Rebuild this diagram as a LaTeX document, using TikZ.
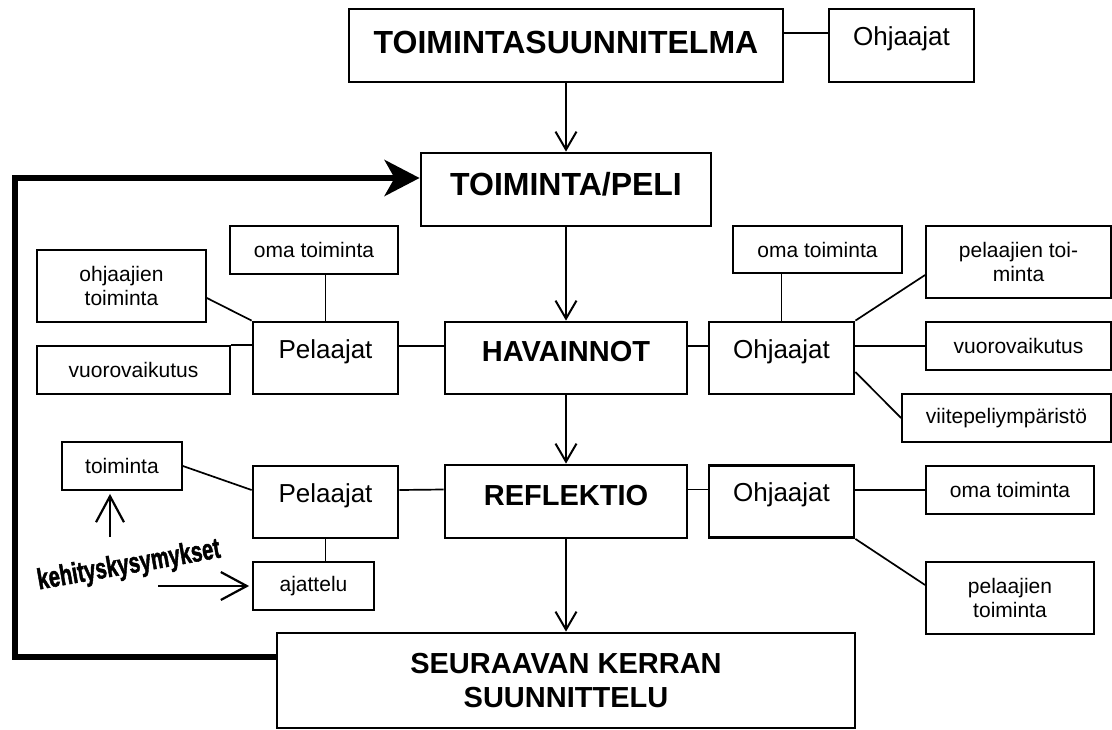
\documentclass[tikz,border=0pt]{standalone}
\usepackage{fontspec}
\setmainfont{Liberation Sans}
\newfontfamily\wordart[FakeBold=2]{Liberation Sans Bold}
\usetikzlibrary{arrows.meta}
\tikzset{
	smallbox/.style={draw, line width=1.8pt, inner sep=0pt, align=center,
			font=\fontsize{21}{24}\selectfont},
	groupbox/.style={draw, line width=2.8pt, inner sep=0pt,
			minimum width=145pt, minimum height=72pt,
			font=\fontsize{26}{30}\selectfont},
	stagebox/.style={draw, line width=2.8pt, inner sep=0pt, align=center,
			font=\bfseries\fontsize{29}{34}\selectfont},
	textdrop/.style={text height=#1, text depth=0pt},
	link/.style={line width=1.7pt},
	flow/.style={line width=2pt, -{Straight Barb[length=18pt, width=21pt]}},
	hint/.style={line width=2.2pt, -{Straight Barb[length=26pt, width=28pt]}},
	feedback/.style={line width=6pt, -{Stealth[length=35pt, width=36pt, inset=10pt]}}
}

\begin{document}
\begin{tikzpicture}[x=1pt, y=-1pt]
	\useasboundingbox (0,0) rectangle (1112,729);
	% stages
	\node[stagebox, minimum width=434pt, minimum height=73pt, textdrop=15pt, font=\bfseries\fontsize{32}{36}\selectfont] (plan) at (566,45.5) {TOIMINTASUUNNITELMA};
	\node[groupbox, minimum height=73pt, textdrop=0pt] (planohj) at (901.5,45.5) {Ohjaajat};
	\node[stagebox, minimum width=290pt, minimum height=73pt, textdrop=11pt, font=\bfseries\fontsize{32}{36}\selectfont] (peli) at (566,189.5) {TOIMINTA/PELI};
	\node[stagebox, minimum width=242pt, minimum height=72pt, textdrop=6pt] (hav) at (566,358) {HAVAINNOT};
	\node[stagebox, minimum width=242pt, minimum height=73pt, textdrop=7pt] (ref) at (566,501.5) {REFLEKTIO};
	\node[stagebox, minimum width=578pt, minimum height=95pt] (seur) at (566,680.5) {SEURAAVAN KERRAN\\SUUNNITTELU};
	% havainnot
	\node[groupbox, textdrop=0pt] (havpel) at (325.5,358) {Pelaajat};
	\node[smallbox, minimum width=168pt, minimum height=48pt] (havpeloma) at (314,250) {oma toiminta};
	\node[smallbox, minimum width=169pt, minimum height=72pt] (havpelohj) at (121.5,286) {ohjaajien\\toiminta};
	\node[smallbox, minimum width=193pt, minimum height=48pt] (havpelvuoro) at (133.5,370) {vuorovaikutus};
	\node[groupbox, textdrop=0pt] (havohj) at (781.5,358) {Ohjaajat};
	\node[smallbox, minimum width=169pt, minimum height=47pt] (havohjoma) at (817.5,249.5) {oma toiminta};
	\node[smallbox, minimum width=185pt, minimum height=72pt] (havohjpel) at (1018.5,262) {pelaajien toi-\\minta};
	\node[smallbox, minimum width=185pt, minimum height=48pt] (havohjvuoro) at (1018.5,346) {vuorovaikutus};
	\node[smallbox, minimum width=209pt, minimum height=48pt] (havohjviite) at (1006.5,418) {viitepeliympäristö};
	% reflektio
	\node[groupbox, textdrop=0pt] (refpel) at (325.5,502) {Pelaajat};
	\node[smallbox, minimum width=120pt, minimum height=48pt] (refpeltoim) at (122,466) {toiminta};
	\node[smallbox, minimum width=121pt, minimum height=48pt] (refpelajat) at (313.5,586) {ajattelu};
	\node[groupbox, textdrop=0pt] (refohj) at (781.5,501.5) {Ohjaajat};
	\node[smallbox, minimum width=168pt, minimum height=48pt] (refohjoma) at (1010,490) {oma toiminta};
	\node[smallbox, minimum width=168pt, minimum height=72pt] (refohjpel) at (1010,598) {pelaajien\\toiminta};
	\node[rotate=10, xscale=.7, font=\wordart\fontsize{29}{30}\selectfont] (kysym) at (129,566) {kehityskysymykset};
	\coordinate (kysup) at (110,537);
	\coordinate (kysright) at (158,586);
	\coordinate (back) at (15,400);

	\draw[flow] (plan) -- (peli);
	\draw[flow] (peli) -- (hav);
	\draw[flow] (hav) -- (ref);
	\draw[flow] (ref) -- (seur);
	\draw[feedback] ([yshift=23.5pt]seur.west) -| (back) |- ([yshift=11.5pt]peli.west);

	\draw[link] ([yshift=12.5pt]plan.east) -- ([yshift=12.5pt]planohj.west);
	\draw[link] (havpel.north) -- (havpel.north |- havpeloma.south);
	\draw[link] ([yshift=-12pt]havpelohj.east) -- (havpel.north west);
	\draw[link] (havpelvuoro.north east) -- (havpelvuoro.north east -| havpel.west);
	\draw[link] ([yshift=12pt]havpel.east) -- ([yshift=12pt]hav.west);
	\draw[link] ([yshift=12pt]hav.east) -- ([yshift=12pt]havohj.west);
	\draw[link] (havohj.north) -- (havohj.north |- havohjoma.south);
	\draw[link] (havohj.north east) -- ([yshift=-13pt]havohjpel.west);
	\draw[link] (havohjvuoro.west -| havohj.east) -- (havohjvuoro.west);
	\draw[link] ([yshift=-14pt]havohj.east) -- (havohjviite.west);

	\draw[link] (refpeltoim.east) -- ([yshift=12pt]refpel.west);
	\draw[link] ([yshift=12pt]refpel.east) -- ([yshift=12pt]ref.west);
	\draw[link] ([yshift=12pt]ref.east) -- ([yshift=12pt]refohj.west);
	\draw[link] (refohjoma.west -| refohj.east) -- (refohjoma.west);
	\draw[link] (refohj.south east) -- ([yshift=13pt]refohjpel.west);
	\draw[link] (refpel.south) -- (refpel.south |- refpelajat.north);

	\draw[hint, shorten >=3pt] (kysup) -- (kysup |- refpeltoim.south);
	\draw[hint, shorten >=3pt] (kysright) -- (refpelajat.west);
\end{tikzpicture}
\end{document}
